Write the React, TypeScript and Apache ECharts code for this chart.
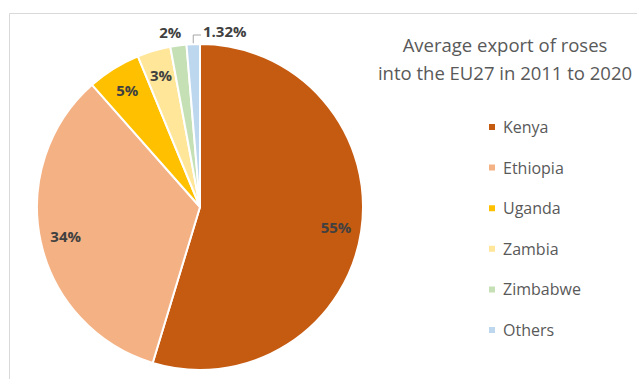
import React, { useEffect, useRef } from "react";
import * as echarts from "echarts";

const categories = ["Kenya", "Ethiopia", "Uganda", "Zambia", "Zimbabwe", "Others"];
const shares = [54.7, 33.8, 5.3, 3.3, 1.6, 1.32];
const colors = ["#C55A11", "#F4B183", "#FFC000", "#FFE699", "#C5E0B4", "#BDD7EE"];
const titleLines = ["Average export of roses", "into the EU27 in 2011 to 2020"];
const outsideLabelled = ["Zimbabwe", "Others"];

const FONT = "'Open Sans', 'Noto Sans', sans-serif";

function fmt(name: string, v: number) {
  return name === "Others" ? v.toFixed(2) + "%" : Math.round(v) + "%";
}

export default function App() {
  const ref = useRef<HTMLDivElement>(null);
  useEffect(() => {
    if (!ref.current) return;
    const chart = echarts.init(ref.current, undefined, { renderer: "svg" });
    const center = [200, 207];
    const R = 163;
    const labelStyle = {
      color: "#404040",
      fontWeight: "bold" as const,
      fontSize: 15,
      fontFamily: FONT,
    };
    chart.setOption({
      animation: false,
      backgroundColor: "#ffffff",
      title: {
        text: titleLines.join("\n"),
        left: 505,
        top: 30,
        padding: 0,
        textAlign: "center",
        textStyle: {
          color: "#595959",
          fontSize: 18.5,
          fontWeight: "normal",
          fontFamily: FONT,
          lineHeight: 28,
        },
      },
      legend: {
        orient: "vertical",
        left: 487,
        top: 117,
        padding: 0,
        icon: "rect",
        itemWidth: 8,
        itemHeight: 8,
        itemGap: 20.6,
        data: categories,
        textStyle: {
          color: "#595959",
          fontSize: 16,
          fontFamily: FONT,
          lineHeight: 20,
          padding: [0, 0, 0, 2],
        },
      },
      graphic: [
        {
          type: "rect",
          silent: true,
          shape: { x: 9.5, y: 13.5, width: 700, height: 500 },
          style: { fill: "none", stroke: "#d9d9d9", lineWidth: 1 },
        },
      ],
      series: [
        {
          type: "pie",
          center,
          radius: [0, R],
          startAngle: 90,
          clockwise: true,
          avoidLabelOverlap: false,
          itemStyle: { borderColor: "#ffffff", borderWidth: 2 },
          emphasis: { disabled: true },
          labelLine: { show: false },
          label: { show: false },
          data: categories.map((name, i) => {
            const show = outsideLabelled.includes(name);
            return {
              name,
              value: shares[i],
              itemStyle: { color: colors[i] },
              label: {
                show,
                position: "outside",
                formatter: fmt(name, shares[i]),
                ...labelStyle,
              },
              labelLine: {
                show: name === "Others",
                length: 6,
                length2: 6,
                lineStyle: { color: "#a6a6a6", width: 1 },
              },
            };
          }),
          labelLayout: (p: any) => {
            const r = p.rect;
            if (p.dataIndex === 4) {
              return { x: r.x + 1, y: r.y - 12, align: "center", verticalAlign: "middle" };
            }
            if (p.dataIndex === 5) {
              const mx = r.x + r.width / 2;
              return {
                x: r.x + r.width + 2,
                y: r.y - 12,
                align: "left",
                verticalAlign: "middle",
                labelLinePoints: [
                  [mx, r.y + 2],
                  [mx, r.y - 8],
                  [r.x + r.width, r.y - 8],
                ],
              };
            }
            return {};
          },
        },
        {
          type: "pie",
          center,
          radius: [106, R],
          startAngle: 90,
          clockwise: true,
          silent: true,
          avoidLabelOverlap: false,
          itemStyle: { color: "rgba(0,0,0,0)", borderWidth: 0 },
          emphasis: { disabled: true },
          labelLine: { show: false },
          label: {
            show: true,
            position: "inside",
            ...labelStyle,
          },
          data: categories.map((name, i) => ({
            name,
            value: shares[i],
            label: {
              show: !outsideLabelled.includes(name),
              formatter: fmt(name, shares[i]),
            },
          })),
        },
      ],
    });
    return () => chart.dispose();
  }, []);
  return (
    <div
      ref={ref}
      style={{ position: "fixed", left: 0, top: 0, width: 637, height: 379 }}
    />
  );
}
